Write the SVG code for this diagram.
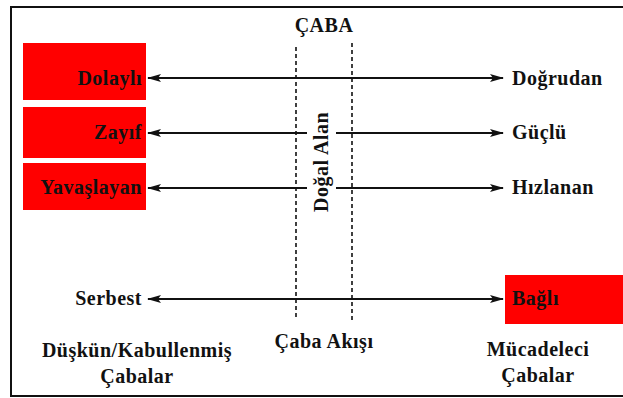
<svg xmlns="http://www.w3.org/2000/svg" width="623" height="398" viewBox="0 0 623 398">
  <style>
    .lbl { font-family: "Liberation Serif", "Times New Roman", serif; font-weight: bold; font-size: 20px; fill: #111; letter-spacing: 0.5px; }
    .box { fill: #ff0000; }
    .arrow { stroke: #111; stroke-width: 2; fill: none; marker-start: url(#head); marker-end: url(#head); }
    .dash { stroke: #111; stroke-width: 1.6; stroke-dasharray: 4 3; fill: none; }
  </style>
  <defs>
    <marker id="head" viewBox="0 0 14 10" refX="13" refY="5" markerWidth="14" markerHeight="10" markerUnits="userSpaceOnUse" orient="auto-start-reverse">
      <path d="M0,1 L14,5 L0,9 L3,5 Z" fill="#111"/>
    </marker>
  </defs>

  <rect width="623" height="398" fill="#fff"/>
  <!-- frame -->
  <rect x="11" y="7" width="625" height="389" fill="none" stroke="#111" stroke-width="2"/>

  <!-- effort zone boundaries -->
  <g id="boundaries">
    <line class="dash" x1="296" y1="47" x2="296" y2="320"/>
    <line class="dash" x1="352" y1="43" x2="352" y2="320"/>
  </g>

  <!-- connectors -->
  <g id="connectors">
    <line class="arrow" x1="148" y1="78" x2="503" y2="78"/>
    <line class="arrow" x1="148" y1="133" x2="503" y2="133"/>
    <line class="arrow" x1="148" y1="188" x2="503" y2="188"/>
    <line class="arrow" x1="148" y1="299" x2="503" y2="299"/>
  </g>

  <g id="title">
    <text class="lbl" x="324" y="32" text-anchor="middle">ÇABA</text>
  </g>

  <g id="dogal-alan">
    <rect x="307" y="108" width="29" height="108" fill="#fff"/>
    <text class="lbl" x="0" y="0" text-anchor="middle" transform="translate(328,162) rotate(-90)">Doğal Alan</text>
  </g>

  <g id="dolayli">
    <rect class="box" x="23" y="43" width="123" height="57"/>
    <text class="lbl" x="142" y="85" text-anchor="end">Dolaylı</text>
  </g>
  <g id="zayif">
    <rect class="box" x="23" y="107" width="123" height="51"/>
    <text class="lbl" x="142" y="139" text-anchor="end">Zayıf</text>
  </g>
  <g id="yavaslayan">
    <rect class="box" x="23" y="163" width="123" height="47"/>
    <text class="lbl" x="142" y="194" text-anchor="end">Yavaşlayan</text>
  </g>
  <g id="serbest">
    <text class="lbl" x="142" y="305" text-anchor="end">Serbest</text>
  </g>

  <g id="dogrudan">
    <text class="lbl" x="512" y="85">Doğrudan</text>
  </g>
  <g id="guclu">
    <text class="lbl" x="512" y="139">Güçlü</text>
  </g>
  <g id="hizlanan">
    <text class="lbl" x="512" y="194">Hızlanan</text>
  </g>
  <g id="bagli">
    <rect class="box" x="505" y="275" width="120" height="49"/>
    <text class="lbl" x="512" y="305">Bağlı</text>
  </g>

  <g id="duskun">
    <text class="lbl" x="137" y="357" text-anchor="middle">Düşkün/Kabullenmiş</text>
    <text class="lbl" x="137" y="383" text-anchor="middle">Çabalar</text>
  </g>
  <g id="caba-akisi">
    <text class="lbl" x="324" y="348" text-anchor="middle">Çaba Akışı</text>
  </g>
  <g id="mucadeleci">
    <text class="lbl" x="538" y="356" text-anchor="middle">Mücadeleci</text>
    <text class="lbl" x="538" y="382" text-anchor="middle">Çabalar</text>
  </g>
</svg>
